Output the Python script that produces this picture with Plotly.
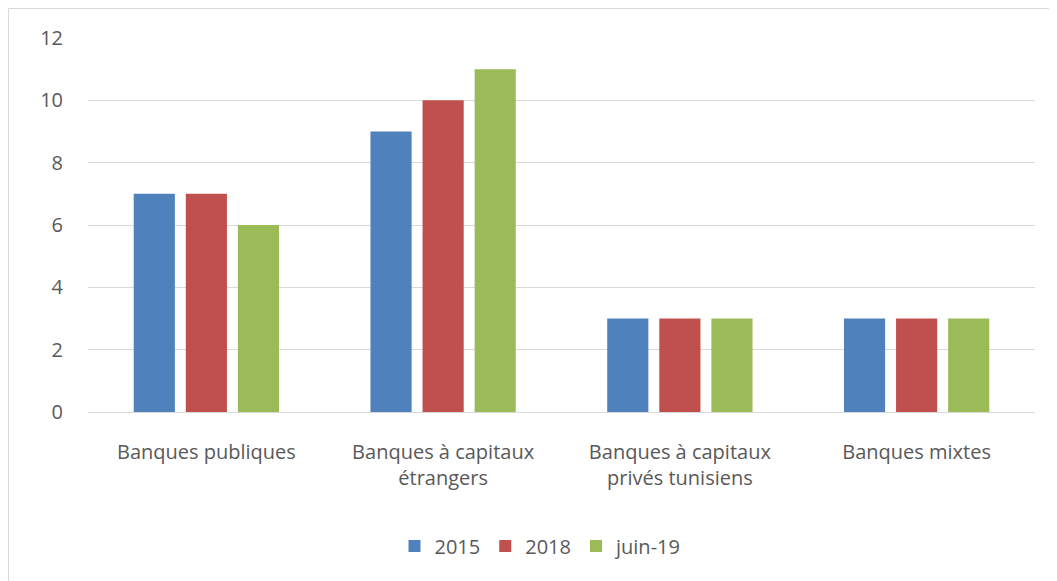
import plotly.graph_objects as go

categories = ["Banques publiques", "Banques à capitaux<br>étrangers",
              "Banques à capitaux<br>privés tunisiens", "Banques mixtes"]
series_names = ["2015", "2018", "juin-19"]
values_2015 = [7, 9, 3, 3]
values_2018 = [7, 10, 3, 3]
values_juin19 = [6, 11, 3, 3]
colors = ["#4F81BD", "#C0504D", "#9BBB59"]

fig = go.Figure()
for name, vals, col in zip(series_names, [values_2015, values_2018, values_juin19], colors):
    fig.add_trace(go.Bar(x=categories, y=vals, name=name, marker_color=col,
                         marker_line_width=0))

# page body has an 8px default margin, so figure pixel = reference pixel - 8
OFF = 8
W, H = 1057 - OFF, 581 - OFF
L, T = 88 - OFF, 38 - OFF
R = W - (1035 - OFF)
B = H - (412 - OFF)
pw, ph = W - L - R, H - T - B

def px_x(p):
    return (p - OFF - L) / pw

def px_y(p):
    return (H - B - (p - OFF)) / ph

fig.add_shape(type="line", xref="paper", yref="paper",
              x0=px_x(8.5), x1=px_x(8.5), y0=px_y(8.5), y1=px_y(600),
              line=dict(color="#D9D9D9", width=1))
fig.add_shape(type="line", xref="paper", yref="paper",
              x0=px_x(8.5), x1=px_x(1100), y0=px_y(8.5), y1=px_y(8.5),
              line=dict(color="#D9D9D9", width=1))

FS = 20
fig.update_layout(
    width=W, height=H,
    margin=dict(l=L, r=R, t=T, b=B),
    paper_bgcolor="white", plot_bgcolor="white",
    barmode="group", bargap=0.34, bargroupgap=0.21,
    font=dict(family="Open Sans, Liberation Sans, sans-serif", size=FS, color="#595959"),
    showlegend=True,
    legend=dict(orientation="h", x=px_x(541), xanchor="center",
                y=px_y(546), yanchor="middle",
                font=dict(size=FS, color="#595959"), itemwidth=30,
                traceorder="normal"),
    xaxis=dict(showline=True, linecolor="#D9D9D9", linewidth=1, ticks="",
               tickfont=dict(size=FS, color="#595959"), ticklabelstandoff=22,
               showgrid=False),
    yaxis=dict(range=[0, 12], dtick=2, showgrid=True, gridcolor="#D9D9D9",
               gridwidth=1, zeroline=False, showline=False, ticks="",
               tickfont=dict(size=FS, color="#595959"), ticklabelstandoff=24),
)

fig.write_html("out.html")
